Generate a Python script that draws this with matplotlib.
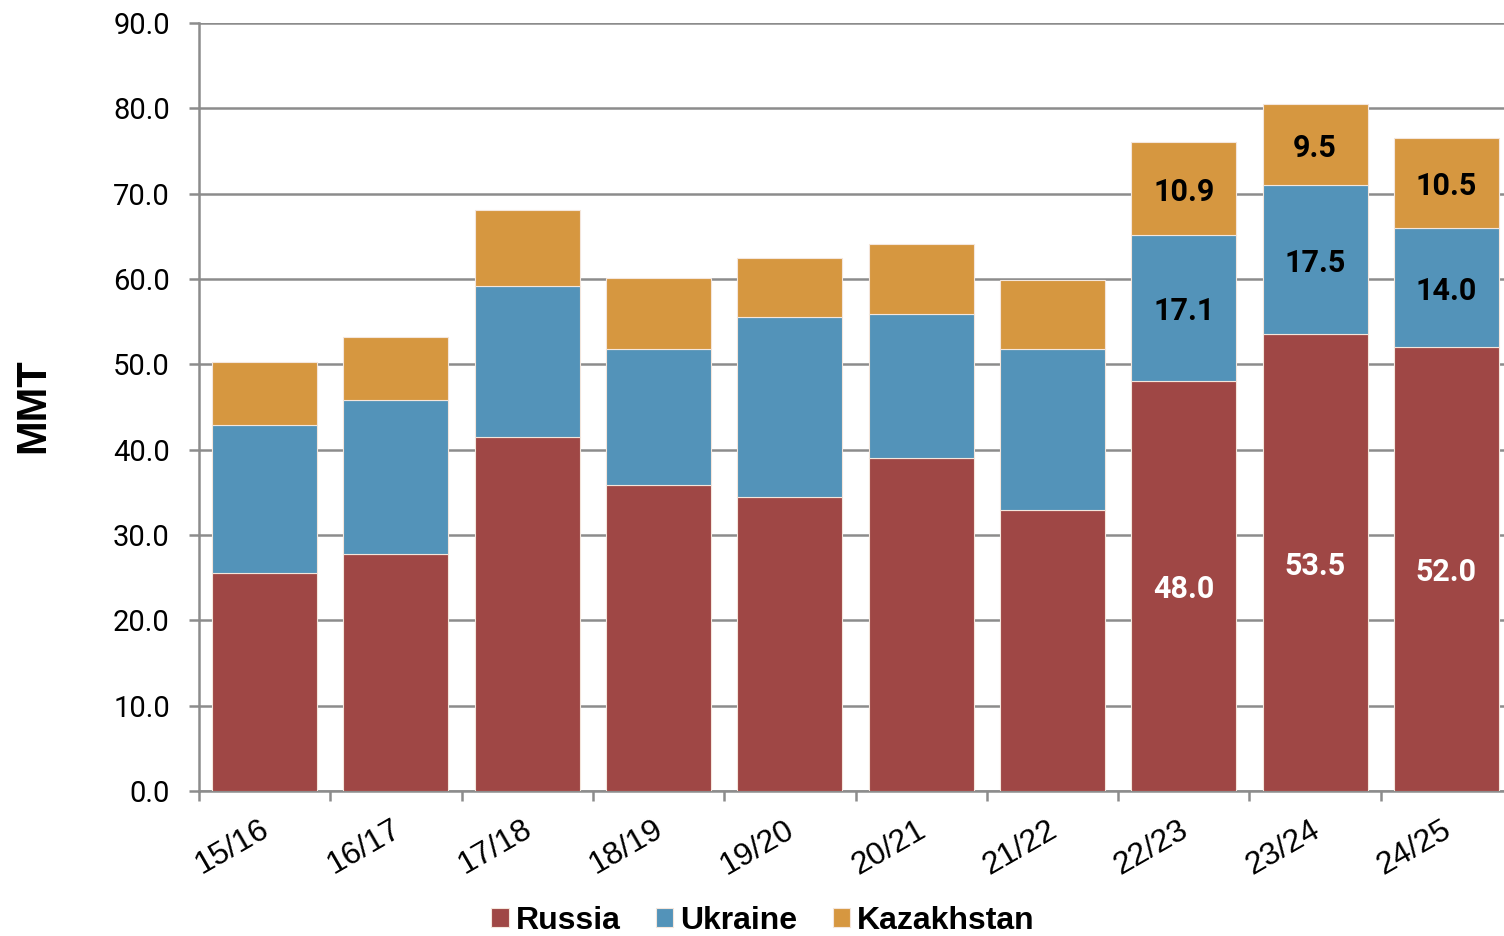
import matplotlib
matplotlib.use("Agg")
import matplotlib.pyplot as plt
import matplotlib.ticker as mticker
import matplotlib.transforms as mtransforms
import numpy as np

# ── Data ─────────────────────────────────────────────────────────────────────
YEARS = ["15/16", "16/17", "17/18", "18/19", "19/20",
         "20/21", "21/22", "22/23", "23/24", "24/25"]
RUSSIA = [25.5, 27.8, 41.5, 35.9, 34.5, 39.0, 32.9, 48.0, 53.5, 52.0]
UKRAINE = [17.4, 18.0, 17.7, 15.9, 21.0, 16.9, 18.9, 17.1, 17.5, 14.0]
KAZAKHSTAN = [7.4, 7.4, 8.9, 8.3, 7.0, 8.2, 8.1, 10.9, 9.5, 10.5]
LABELLED = ["22/23", "23/24", "24/25"]   # bars that carry value labels

C_RUS = "#9F4745"
C_UKR = "#5393B9"
C_KAZ = "#D69740"
GRID = "#8C8C8C"
NARROW = ["Liberation Sans Narrow", "Roboto", "DejaVu Sans"]
SANS = ["Liberation Sans", "DejaVu Sans"]
# ─────────────────────────────────────────────────────────────────────────────

W, H = 1504, 936
fig = plt.figure(figsize=(W / 100, H / 100), dpi=100)
ax = fig.add_axes([199 / W, (936 - 791) / H, (1512 - 199) / W, (791 - 23) / H])

x = np.arange(len(YEARS))
rus = np.array(RUSSIA)
ukr = np.array(UKRAINE)
kaz = np.array(KAZAKHSTAN)

kw = dict(width=0.8, edgecolor="#F4E6DC", linewidth=0.8, zorder=3)
b_rus = ax.bar(x, rus, color=C_RUS, label="Russia", **kw)
b_ukr = ax.bar(x, ukr, bottom=rus, color=C_UKR, label="Ukraine", **kw)
b_kaz = ax.bar(x, kaz, bottom=rus + ukr, color=C_KAZ, label="Kazakhstan", **kw)

# value labels on the last three seasons
lbl = dict(ha="center", va="center_baseline", fontsize=22, fontweight="bold",
           family=NARROW, zorder=4)
for i, yr in enumerate(YEARS):
    if yr not in LABELLED:
        continue
    ax.text(i, rus[i] / 2, f"{rus[i]:.1f}", color="white", **lbl)
    ax.text(i, rus[i] + ukr[i] / 2, f"{ukr[i]:.1f}", color="black", **lbl)
    ax.text(i, rus[i] + ukr[i] + kaz[i] / 2, f"{kaz[i]:.1f}", color="black", **lbl)

# ── Axes styling ─────────────────────────────────────────────────────────────
ax.set_xlim(-0.5, 9.5)
ax.set_ylim(0, 90)
ax.set_yticks(np.arange(0, 91, 10))
ax.yaxis.set_major_formatter(mticker.FuncFormatter(lambda v, _: f"{v:.1f}"))
ax.grid(axis="y", color=GRID, linewidth=1.8, zorder=0)
ax.set_axisbelow(True)

for s in ("top", "right"):
    ax.spines[s].set_visible(False)
for s in ("left", "bottom"):
    ax.spines[s].set_color(GRID)
    ax.spines[s].set_linewidth(1.8)

ax.tick_params(axis="y", direction="out", length=7, width=1.8, color=GRID,
               pad=14, labelsize=21)

ax.set_xticks(x)
ax.set_xticklabels(YEARS)
ax.set_xticks(np.arange(-0.5, 9.5, 1), minor=True)
ax.tick_params(axis="x", which="major", length=0, pad=17)
ax.tick_params(axis="x", which="minor", direction="out", length=7, width=1.8,
               color=GRID)

for lab in ax.get_yticklabels():
    lab.set_family(NARROW)
shift = mtransforms.ScaledTranslation(-5 / 100, 0, fig.dpi_scale_trans)
for lab in ax.get_xticklabels():
    lab.set_family(SANS)
    lab.set_fontsize(23)
    lab.set_rotation(30)
    lab.set_ha("right")
    lab.set_rotation_mode("anchor")
    lab.set_transform(lab.get_transform() + shift)

fig.text(33 / W, 1 - 406 / H, "MMT", rotation=90, ha="center", va="center",
         fontsize=30, fontweight="bold", family=SANS)

fig.legend(handles=[b_rus, b_ukr, b_kaz], labels=["Russia", "Ukraine", "Kazakhstan"],
           loc="center", bbox_to_anchor=(763 / W, 1 - 921 / H), ncol=3,
           frameon=False, handlelength=0.55, handleheight=0.55,
           handletextpad=0.22, columnspacing=1.1,
           prop={"family": SANS, "weight": "bold", "size": 23})

fig.savefig("out.png", dpi=100)
